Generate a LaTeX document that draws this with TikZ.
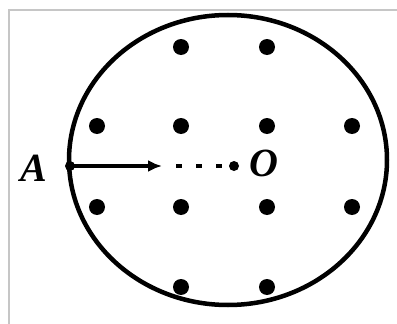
\documentclass[tikz,border=0pt]{standalone}
\usepackage{fontspec}
\setmainfont{Liberation Serif}
\usetikzlibrary{arrows.meta,shapes.geometric}
\begin{document}
\begin{tikzpicture}[x=1pt,y=-1pt,
  fielddot/.style={circle,fill=black,inner sep=0pt,minimum size=16pt},
  pt/.style={circle,fill=black,inner sep=0pt,minimum size=10pt},
  lbl/.style={inner sep=0pt,font=\fontsize{40}{40}\selectfont\bfseries\itshape}]
\useasboundingbox (0,0) rectangle (397,324);
\draw[gray!45,line width=1.5pt] (9,324) -- (9,10) -- (397,10);
\node[draw=black,line width=4.5pt,ellipse,minimum width=318pt,minimum height=290pt,inner sep=0pt] (c) at (228,160) {};
\foreach \i/\x/\y in {1/181/47,2/267/47,
  3/97/126,4/181/126,5/267/126,6/352/126,
  7/97/207,8/181/207,9/267/207,10/352/207,
  11/181/287,12/267/287}
  \node[fielddot] (d\i) at (\x,\y) {};
\node[pt] (A) at (70,166) {};
\node[pt] (O) at (234,166) {};
\coordinate (v) at (162,166);
\node[lbl] (Al) at (34,168) {A};
\node[lbl] (Ol) at (264,163) {O};
\draw[line width=3.5pt,-{Latex[length=14pt,width=12pt]}] (A.center) -- (v);
\draw[line width=4pt,dash pattern=on 6pt off 14pt] (v) ++(14,0) -- (O.west);
\end{tikzpicture}
\end{document}
